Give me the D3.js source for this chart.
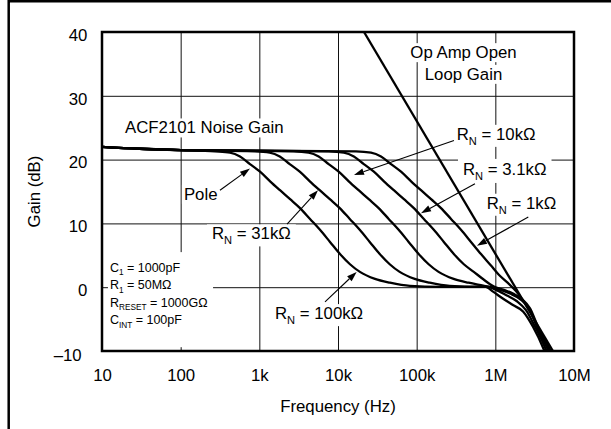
<!DOCTYPE html>
<html>
<head>
<meta charset="UTF-8" />
<title>ACF2101 Noise Gain</title>
<script src="https://cdn.jsdelivr.net/npm/d3@7"></script>
<style>
    body { margin: 0; background: #fff; }
    svg { display: block; }
    text { font-family: "Liberation Sans", Arial, Helvetica, sans-serif; fill: #000; white-space: pre; }
</style>
</head>
<body>
<svg id="chart" width="611" height="429"></svg>
<script>
    // axis ticks
    const freqTicks = [10, 100, 1e3, 1e4, 1e5, 1e6, 1e7];
    const freqLabels = ["10", "100", "1k", "10k", "100k", "1M", "10M"];
    const gainTicks = [-10, 0, 10, 20, 30, 40];
    const gainLabels = ["\u201310", "0", "10", "20", "30", "40"];

    // [Hz, dB]
    const flatGain = [[10, 22.0], [30, 21.7], [100, 21.5]];
    const gainRn100k = [[273, 21.3], [424, 21.1], [568, 20.5], [760, 19.3], [1020, 18.1], [1370, 16.6], [1830, 15.2], [2460, 13.8], [3290, 12.4], [4410, 10.7], [5900, 9.0], [7910, 7.1], [10600, 5.2], [14200, 3.6], [19000, 2.4], [29500, 1.3], [45800, 0.7], [82000, 0.2], [198000, 0.05], [476000, 0.05], [738000, 0.1], [934000, -0.7], [1217000, -1.7], [1676000, -2.8], [2250000, -3.8], [3010000, -6.2], [4150000, -9.8], [4670000, -11.4]];
    const gainRn31k = [[874, 21.3], [1357, 21.1], [1818, 20.5], [2432, 19.3], [3264, 18.1], [4384, 16.6], [5856, 15.2], [7872, 13.8], [10530, 12.4], [14110, 10.7], [18880, 9.0], [25310, 7.1], [33920, 5.2], [45440, 3.6], [60800, 2.4], [94400, 1.3], [146600, 0.7], [262400, 0.2], [633600, 0.05], [807000, 0.05], [1050000, -0.5], [1406000, -1.3], [1884000, -2.2], [2453000, -3.6], [3193000, -6.2], [4406000, -9.8], [4955000, -11.4]];
    const gainRn10k = [[2730, 21.3], [4240, 21.1], [5680, 20.5], [7600, 19.3], [10200, 18.1], [13700, 16.6], [18300, 15.2], [24600, 13.8], [32900, 12.4], [44100, 10.7], [59000, 9.0], [79100, 7.1], [106000, 5.2], [142000, 3.6], [190000, 2.4], [295000, 1.3], [458000, 0.7], [700000, 0.25], [881000, 0.0], [1146000, -0.4], [1535000, -1.0], [2057000, -1.85], [2675000, -3.3], [3380000, -6.2], [4667000, -9.8], [5248000, -11.4]];
    const gainRn3k1 = [[7640, 21.3], [11870, 21.1], [15900, 20.5], [21280, 19.3], [28560, 18.1], [38360, 16.6], [51240, 15.2], [68880, 13.8], [92120, 12.4], [123500, 10.7], [165200, 9.0], [221500, 7.1], [296800, 5.2], [397600, 3.6], [532000, 2.4], [676000, 1.4], [961000, 0.1], [1288000, -0.4], [1676000, -1.0], [2183000, -1.85], [2760000, -3.3], [3483000, -6.2], [4809000, -9.8], [5404000, -11.4]];
    const gainRn1k = [[16930, 21.3], [26290, 21.1], [35220, 20.5], [47120, 19.3], [63240, 18.1], [84940, 16.6], [113500, 15.2], [152500, 13.8], [204000, 12.4], [273400, 10.7], [365800, 9.0], [490400, 7.1], [657000, 5.2], [880000, 3.4], [1100000, 2.0], [1406000, 0.8], [1828000, -0.6], [2311000, -2.3], [2838000, -4.0], [3483000, -6.4], [4955000, -9.8], [5572000, -11.4]];
    const openLoopGain = [[21400, 40], [5400000, -10]];

    const conditions = [
        [["C"], ["1", "sub"], [" = 1000pF"]],
        [["R"], ["1", "sub"], [" = 50M\u03A9"]],
        [["R"], ["RESET", "sub"], [" = 1000G\u03A9"]],
        [["C"], ["INT", "sub"], [" = 100pF"]]
    ];

    const W = 611, H = 429;
    const x = d3.scaleLog().domain([10, 1e7]).range([102, 574]);
    const y = d3.scaleLinear().domain([-10, 40]).range([351, 32]);
    const svg = d3.select('#chart');

    // outer border (top and left only)
    svg.append('path')
        .attr('d', `M8.7,${H} V1.2 H${W}`)
        .attr('fill', 'none')
        .attr('stroke', '#000')
        .attr('stroke-width', 2.5);

    const gGrid = svg.append('g');
    const gBg = svg.append('g');
    const gCurves = svg.append('g');
    const gFrame = svg.append('g');
    const gArrows = svg.append('g');
    const gText = svg.append('g');

    // grid lines
    gGrid.append('g')
        .attr('transform', `translate(0,${y(-10)})`)
        .call(d3.axisBottom(x).tickValues(freqTicks).tickSize(-(y(-10) - y(40))).tickFormat(''))
        .call(g => g.select('.domain').remove());
    gGrid.append('g')
        .attr('transform', `translate(${x(10)},0)`)
        .call(d3.axisLeft(y).tickValues(gainTicks).tickSize(-(x(1e7) - x(10))).tickFormat(''))
        .call(g => g.select('.domain').remove());
    gGrid.selectAll('line').attr('stroke', '#111').attr('stroke-width', 1);

    // tick labels
    const xLab = svg.append('g')
        .attr('transform', `translate(0,${y(-10)})`)
        .call(d3.axisBottom(x).tickValues(freqTicks).tickSize(0).tickFormat((d, i) => freqLabels[i]));
    xLab.select('.domain').remove();
    xLab.selectAll('text').attr('y', 30).attr('dy', null).attr('font-size', 16.8).attr('fill', '#000')
        .attr('font-family', '"Liberation Sans", Arial, sans-serif');

    const yLab = svg.append('g')
        .attr('transform', `translate(${x(10)},0)`)
        .call(d3.axisLeft(y).tickValues(gainTicks).tickSize(0).tickFormat((d, i) => gainLabels[i]));
    yLab.select('.domain').remove();
    yLab.selectAll('text').attr('x', d => d === -10 ? -20.3 : -14.7).attr('y', d => d === -10 ? 4 : 3)
        .attr('font-size', 16.8).attr('fill', '#000')
        .attr('font-family', '"Liberation Sans", Arial, sans-serif');

    // axis titles
    svg.append('text')
        .attr('x', (x(10) + x(1e7)) / 2)
        .attr('y', 412)
        .attr('text-anchor', 'middle')
        .attr('font-size', 16.8)
        .text('Frequency (Hz)');
    svg.append('text')
        .attr('transform', `translate(40,${y(15)}) rotate(-90)`)
        .attr('text-anchor', 'middle')
        .attr('font-size', 16.8)
        .text('Gain (dB)');

    // curves
    const clip = svg.append('clipPath').attr('id', 'plotclip');
    clip.append('rect').attr('x', x(10)).attr('y', y(40)).attr('width', x(1e7) - x(10)).attr('height', y(-10) - y(40));

    const line = d3.line().x(d => x(d[0])).y(d => y(d[1])).curve(d3.curveMonotoneX);
    const series = [
        flatGain.concat(gainRn100k),
        flatGain.concat(gainRn31k),
        flatGain.concat(gainRn10k),
        flatGain.concat(gainRn3k1),
        flatGain.concat(gainRn1k),
        openLoopGain
    ];
    gCurves.attr('clip-path', 'url(#plotclip)')
        .selectAll('path')
        .data(series)
        .enter()
        .append('path')
        .attr('d', line)
        .attr('fill', 'none')
        .attr('stroke', '#000')
        .attr('stroke-width', 2.3)
        .attr('stroke-linejoin', 'round');

    // plot frame
    gFrame.append('rect')
        .attr('x', x(10)).attr('y', y(40))
        .attr('width', x(1e7) - x(10)).attr('height', y(-10) - y(40))
        .attr('fill', 'none').attr('stroke', '#000').attr('stroke-width', 2.5);

    // labels with white backing
    function addText(parts, pos, size, anchor, pad) {
        const t = gText.append('text')
            .attr('x', x(pos[0])).attr('y', y(pos[1]))
            .attr('font-size', size)
            .attr('text-anchor', anchor || 'start');
        let down = false;
        const sh = size * 0.3;
        parts.forEach(p => {
            const s = t.append('tspan').text(p[0]);
            if (p[1] === 'sub') {
                s.attr('font-size', size * 0.66).attr('dy', sh);
                down = true;
            } else if (down) {
                s.attr('dy', -sh);
                down = false;
            }
        });
        if (pad) {
            const b = t.node().getBBox();
            gBg.append('rect')
                .attr('x', b.x - pad[0]).attr('y', b.y - pad[1])
                .attr('width', b.width + 2 * pad[0]).attr('height', b.height + 2 * pad[1])
                .attr('fill', '#fff');
        }
        return t;
    }

    function arrow(from, to) {
        const x1 = x(from[0]), y1 = y(from[1]), x2 = x(to[0]), y2 = y(to[1]);
        const a = Math.atan2(y2 - y1, x2 - x1), L = 10, w = 3.3;
        const bx = x2 - L * Math.cos(a), by = y2 - L * Math.sin(a);
        gArrows.append('line')
            .attr('x1', x1).attr('y1', y1).attr('x2', bx).attr('y2', by)
            .attr('stroke', '#000').attr('stroke-width', 1.1);
        gArrows.append('path')
            .attr('d', `M${x2},${y2}L${bx - w * Math.sin(a)},${by + w * Math.cos(a)}L${bx + w * Math.sin(a)},${by - w * Math.cos(a)}Z`)
            .attr('fill', '#000');
    }

    const big = 16.8;
    addText([['ACF2101 Noise Gain']], [19.6, 24.1], big, 'start', [3, 0]);
    addText([['Pole']], [110, 13.7], big, 'start', [2, 0]);
    addText([['Op Amp Open']], [394000, 35.9], big, 'middle', [3, 0]);
    addText([['Loop Gain']], [394000, 32.5], big, 'middle', [3, 0]);
    addText([['R'], ['N', 'sub'], [' = 31k\u03A9']], [250, 7.5], big, 'start', [5, 0]);
    addText([['R'], ['N', 'sub'], [' = 100k\u03A9']], [1580, -5.0], big, 'start', [3, 0]);
    addText([['R'], ['N', 'sub'], [' = 10k\u03A9']], [323000, 23.1], big, 'start', [3, 0]);
    addText([['R'], ['N', 'sub'], [' = 3.1k\u03A9']], [388000, 17.6], big, 'start', [5, 1]);
    addText([['R'], ['N', 'sub'], [' = 1k\u03A9']], [776000, 12.3], big, 'start', [3, 0]);

    // conditions block
    gBg.append('rect')
        .attr('x', x(11.9)).attr('y', y(5.5))
        .attr('width', x(258) - x(11.9)).attr('height', y(-9.4) - y(5.5))
        .attr('fill', '#fff');
    conditions.forEach((c, i) => addText(c, [12.6, 2.43 - i * 2.73], 12.5, 'start', null));

    // arrows
    arrow([316, 15.2], [760, 18.6]);
    arrow([2250, 9.9], [5570, 15.2]);
    arrow([6840, -2.3], [17260, 2.4]);
    arrow([298000, 23.0], [15960, 17.6]);
    arrow([551000, 16.2], [113500, 11.6]);
    arrow([2624000, 11.0], [584000, 6.5]);
</script>
</body>
</html>
